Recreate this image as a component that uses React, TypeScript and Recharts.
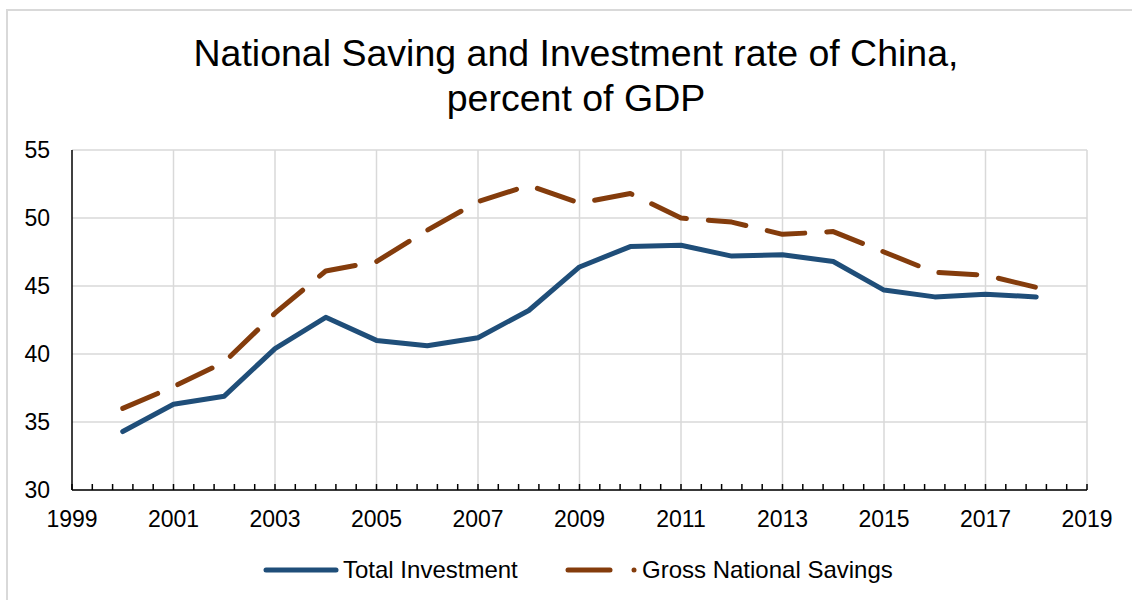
import React from "react";
import { CartesianGrid, Line, LineChart, ReferenceLine, XAxis, YAxis } from "recharts";

const years = [2000, 2001, 2002, 2003, 2004, 2005, 2006, 2007, 2008, 2009, 2010, 2011, 2012, 2013, 2014, 2015, 2016, 2017, 2018];
const totalInvestment = [34.3, 36.3, 36.9, 40.4, 42.7, 41.0, 40.6, 41.2, 43.2, 46.4, 47.9, 48.0, 47.2, 47.3, 46.8, 44.7, 44.2, 44.4, 44.2];
const grossSavings = [36.0, 37.6, 39.4, 43.0, 46.1, 46.8, 49.1, 51.2, 52.4, 51.1, 51.8, 50.0, 49.7, 48.8, 49.0, 47.5, 46.0, 45.8, 44.9];

const yTicks = [30, 35, 40, 45, 50, 55];
const gridYears = [2001, 2003, 2005, 2007, 2009, 2011, 2013, 2015, 2017, 2019];
// minor ticks every 0.4 year, like the source axis
const xTicks = Array.from({ length: 51 }, (_, k) => (19990 + 4 * k) / 10);

const FONT = "'Liberation Sans', Arial, sans-serif";
const BLUE = "#1f4e79";
const BROWN = "#843c0c";

const chartData = years.map((year, i) => ({
  year,
  investment: totalInvestment[i],
  savings: grossSavings[i],
}));

function XTick(props: any) {
  const { x, y, payload } = props;
  const v = payload.value as number;
  const r = Math.round(v);
  const showLabel = Math.abs(v - r) < 1e-6 && r % 2 === 1;
  return (
    <g>
      <line x1={x} x2={x} y1={y} y2={y - 6} stroke="#000" strokeWidth={1.5} />
      {showLabel && (
        <text x={x} y={y + 37} textAnchor="middle" fill="#000" fontSize={23} fontFamily={FONT}>
          {r}
        </text>
      )}
    </g>
  );
}

export default function App() {
  return (
    <div
      style={{
        position: "absolute",
        left: 0,
        top: 0,
        width: 1132,
        height: 600,
        overflow: "hidden",
        background: "#fff",
        fontFamily: FONT,
      }}
    >
      <div
        style={{
          position: "absolute",
          left: 6,
          top: 9,
          width: 1200,
          height: 700,
          border: "2px solid #d9d9d9",
        }}
      />
      <div
        style={{
          position: "absolute",
          left: 176,
          top: 0,
          width: 800,
          textAlign: "center",
          fontSize: 37.5,
          color: "#000",
          lineHeight: "45px",
          paddingTop: 31,
        }}
      >
        National Saving and Investment rate of China,
        <br />
        percent of GDP
      </div>
      <div style={{ position: "absolute", left: 0, top: 0 }}>
        <LineChart width={1132} height={600} data={chartData} margin={{ top: 150, right: 45, bottom: 60, left: 10 }}>
          <CartesianGrid vertical={false} stroke="#d9d9d9" strokeWidth={1.5} />
          {gridYears.map((yr) => (
            <ReferenceLine key={yr} x={yr} stroke="#d9d9d9" strokeWidth={1.5} />
          ))}
          <XAxis
            dataKey="year"
            type="number"
            domain={[1999, 2019]}
            ticks={xTicks}
            interval={0}
            height={50}
            tickSize={0}
            tickMargin={0}
            tickLine={false}
            axisLine={{ stroke: "#000", strokeWidth: 1.5 }}
            tick={<XTick />}
          />
          <YAxis
            type="number"
            domain={[30, 55]}
            ticks={yTicks}
            interval={0}
            width={62}
            tickSize={0}
            tickMargin={22}
            tickLine={false}
            axisLine={{ stroke: "#000", strokeWidth: 1.5 }}
            tick={{ fill: "#000", fontSize: 23, fontFamily: FONT }}
          />
          <Line
            type="linear"
            dataKey="investment"
            stroke={BLUE}
            strokeWidth={5}
            strokeLinecap="round"
            strokeLinejoin="round"
            dot={false}
            isAnimationActive={false}
          />
          <Line
            type="linear"
            dataKey="savings"
            stroke={BROWN}
            strokeWidth={5}
            strokeLinecap="round"
            strokeLinejoin="round"
            strokeDasharray="38 22"
            dot={false}
            isAnimationActive={false}
          />
        </LineChart>
      </div>
      <svg style={{ position: "absolute", left: 0, top: 540 }} width={1132} height={60}>
        <line x1={266} x2={336} y1={30} y2={30} stroke={BLUE} strokeWidth={5} strokeLinecap="round" />
        <text x={343} y={38} fontSize={24} fontFamily={FONT} fill="#000">
          Total Investment
        </text>
        <line x1={568} x2={610} y1={30} y2={30} stroke={BROWN} strokeWidth={5} strokeLinecap="round" />
        <circle cx={634} cy={30} r={2.5} fill={BROWN} />
        <text x={642} y={38} fontSize={24} fontFamily={FONT} fill="#000">
          Gross National Savings
        </text>
      </svg>
    </div>
  );
}
